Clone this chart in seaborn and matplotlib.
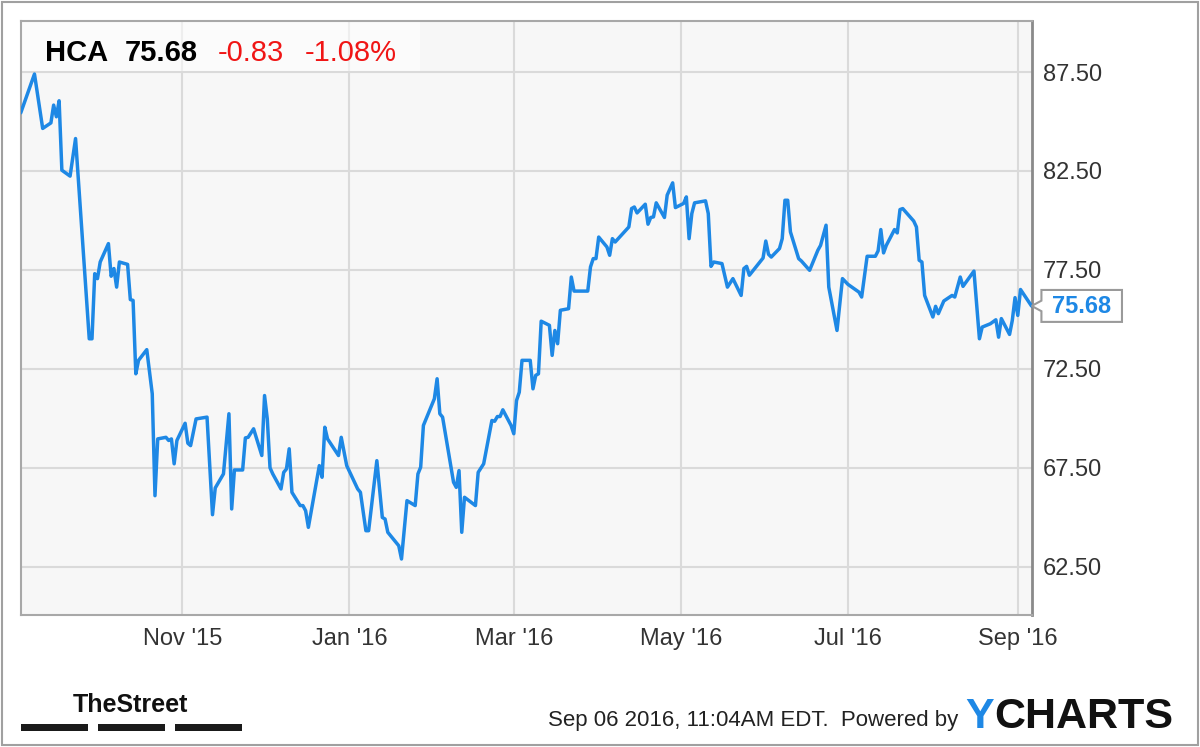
import pandas as pd
import matplotlib
matplotlib.use("Agg")
import matplotlib.pyplot as plt
import matplotlib.transforms as mtransforms
from matplotlib.patches import Polygon, Rectangle
from matplotlib import font_manager as fm
import seaborn as sns

# ---- data ----
ticker = "HCA"
last_price = 75.68
change = -0.83
change_pct = -1.08
stamp = "Sep 06 2016, 11:04AM EDT."

dates = [
    "2015-09-03", "2015-09-08", "2015-09-11", "2015-09-14", "2015-09-15", "2015-09-16", "2015-09-17",
    "2015-09-18", "2015-09-21", "2015-09-23", "2015-09-28", "2015-09-29", "2015-09-30", "2015-10-01",
    "2015-10-02", "2015-10-05", "2015-10-06", "2015-10-07", "2015-10-08", "2015-10-09", "2015-10-12",
    "2015-10-13", "2015-10-14", "2015-10-15", "2015-10-16", "2015-10-19", "2015-10-21", "2015-10-22",
    "2015-10-23", "2015-10-26", "2015-10-27", "2015-10-28", "2015-10-29", "2015-10-30", "2015-11-02",
    "2015-11-03", "2015-11-04", "2015-11-06", "2015-11-10", "2015-11-12", "2015-11-13", "2015-11-16",
    "2015-11-18", "2015-11-19", "2015-11-20", "2015-11-23", "2015-11-24", "2015-11-25", "2015-11-27",
    "2015-11-30", "2015-12-01", "2015-12-02", "2015-12-03", "2015-12-04", "2015-12-07", "2015-12-08",
    "2015-12-09", "2015-12-10", "2015-12-11", "2015-12-14", "2015-12-15", "2015-12-16", "2015-12-17",
    "2015-12-21", "2015-12-22", "2015-12-23", "2015-12-24", "2015-12-28", "2015-12-29", "2015-12-31",
    "2016-01-04", "2016-01-05", "2016-01-07", "2016-01-08", "2016-01-11", "2016-01-13", "2016-01-14",
    "2016-01-15", "2016-01-19", "2016-01-20", "2016-01-22", "2016-01-25", "2016-01-26", "2016-01-27",
    "2016-01-28", "2016-02-01", "2016-02-02", "2016-02-03", "2016-02-04", "2016-02-08", "2016-02-09",
    "2016-02-10", "2016-02-11", "2016-02-12", "2016-02-16", "2016-02-17", "2016-02-19", "2016-02-22",
    "2016-02-23", "2016-02-24", "2016-02-25", "2016-02-26", "2016-02-29", "2016-03-01", "2016-03-02",
    "2016-03-03", "2016-03-04", "2016-03-07", "2016-03-08", "2016-03-09", "2016-03-10", "2016-03-11",
    "2016-03-14", "2016-03-15", "2016-03-16", "2016-03-17", "2016-03-18", "2016-03-21", "2016-03-22",
    "2016-03-23", "2016-03-28", "2016-03-29", "2016-03-30", "2016-03-31", "2016-04-01", "2016-04-04",
    "2016-04-05", "2016-04-06", "2016-04-07", "2016-04-12", "2016-04-13", "2016-04-14", "2016-04-15",
    "2016-04-18", "2016-04-19", "2016-04-20", "2016-04-21", "2016-04-22", "2016-04-25", "2016-04-26",
    "2016-04-28", "2016-04-29", "2016-05-02", "2016-05-03", "2016-05-04", "2016-05-05", "2016-05-06",
    "2016-05-10", "2016-05-11", "2016-05-12", "2016-05-13", "2016-05-16", "2016-05-18", "2016-05-20",
    "2016-05-23", "2016-05-24", "2016-05-25", "2016-05-26", "2016-05-31", "2016-06-01", "2016-06-02",
    "2016-06-03", "2016-06-06", "2016-06-07", "2016-06-08", "2016-06-09", "2016-06-10", "2016-06-13",
    "2016-06-14", "2016-06-17", "2016-06-20", "2016-06-21", "2016-06-23", "2016-06-24", "2016-06-27",
    "2016-06-29", "2016-07-01", "2016-07-05", "2016-07-06", "2016-07-08", "2016-07-11", "2016-07-12",
    "2016-07-13", "2016-07-14", "2016-07-15", "2016-07-18", "2016-07-19", "2016-07-20", "2016-07-21",
    "2016-07-25", "2016-07-26", "2016-07-27", "2016-07-28", "2016-07-29", "2016-08-01", "2016-08-02",
    "2016-08-03", "2016-08-05", "2016-08-08", "2016-08-09", "2016-08-11", "2016-08-12", "2016-08-16",
    "2016-08-18", "2016-08-19", "2016-08-22", "2016-08-24", "2016-08-25", "2016-08-26", "2016-08-29",
    "2016-08-30", "2016-08-31", "2016-09-01", "2016-09-02", "2016-09-06",
]
prices = [
    85.44, 87.40, 84.65, 84.93, 85.83, 85.24, 86.05,
    82.54, 82.24, 84.14, 74.02, 74.02, 77.31, 77.06,
    77.90, 78.83, 77.18, 77.57, 76.63, 77.90, 77.78,
    76.00, 75.96, 72.25, 72.93, 73.47, 71.24, 66.09,
    68.96, 69.04, 68.88, 68.96, 67.70, 68.88, 69.75,
    68.74, 68.62, 69.97, 70.06, 65.13, 66.48, 67.19,
    70.23, 65.42, 67.39, 67.39, 69.01, 69.04, 69.47,
    68.12, 71.15, 69.97, 67.50, 67.19, 66.43, 67.27,
    67.44, 68.46, 66.26, 65.59, 65.59, 65.33, 64.49,
    67.61, 67.02, 69.55, 68.96, 68.12, 69.04, 67.61,
    66.43, 66.26, 64.32, 64.32, 67.86, 64.99, 64.91,
    64.24, 63.56, 62.89, 65.84, 65.59, 67.19, 67.53,
    69.64, 70.99, 72.00, 70.23, 70.06, 66.77, 66.51,
    67.36, 64.24, 66.01, 65.59, 67.27, 67.70, 69.89,
    69.85, 70.09, 70.09, 70.43, 69.64, 69.22, 70.90,
    71.32, 72.93, 72.93, 71.49, 72.17, 72.25, 74.91,
    74.70, 73.18, 74.44, 73.77, 75.46, 75.54, 77.14,
    76.43, 76.43, 77.65, 78.07, 78.07, 79.16, 78.66,
    78.24, 79.08, 78.91, 79.67, 80.60, 80.68, 80.38,
    80.82, 79.81, 80.15, 80.18, 80.89, 80.15, 81.28,
    81.90, 80.65, 80.86, 81.19, 79.08, 80.35, 80.89,
    80.99, 80.35, 77.68, 77.90, 77.82, 76.63, 77.06,
    76.21, 77.57, 77.68, 77.23, 78.10, 78.96, 78.29,
    78.15, 78.58, 79.08, 81.02, 81.02, 79.42, 78.07,
    77.95, 77.48, 78.49, 78.74, 79.76, 76.63, 74.44,
    77.06, 76.77, 76.38, 76.13, 78.19, 78.19, 78.46,
    79.54, 78.36, 78.74, 79.54, 79.37, 80.55, 80.60,
    79.97, 79.67, 77.99, 77.90, 76.21, 75.12, 75.66,
    75.29, 75.93, 76.21, 76.13, 77.14, 76.67, 77.44,
    74.02, 74.61, 74.78, 74.98, 74.10, 75.04, 74.24,
    74.95, 76.10, 75.20, 76.51, 75.68,
]

month_ticks = ["2015-11-01", "2016-01-01", "2016-03-01", "2016-05-01", "2016-07-01", "2016-09-01"]
month_labels = ["Nov '15", "Jan '16", "Mar '16", "May '16", "Jul '16", "Sep '16"]
price_ticks = [62.5, 67.5, 72.5, 77.5, 82.5, 87.5]

# ---- style ----
sns.set_style("white")
plt.rcParams['font.family'] = ['Liberation Sans', 'DejaVu Sans']

BLUE = "#1e88e5"
RED = "#f01515"
TXT = "#333333"
W, H = 1200, 747

df = pd.DataFrame({"date": pd.to_datetime(dates), "price": prices})

fig = plt.figure(figsize=(12, 7.47), dpi=100)
fig.patch.set_facecolor("white")
# plot area in pixels: x 21..1031.7, y 21..615
ax = fig.add_axes([21 / W, 1 - 615 / H, (1031.7 - 21) / W, (615 - 21) / H])
ax.set_facecolor("#f7f7f7")

sns.lineplot(data=df, x="date", y="price", ax=ax, color=BLUE, linewidth=2.5, zorder=3)

ax.set_xlim(pd.Timestamp("2015-09-03 02:00"), pd.Timestamp("2016-09-06 02:00"))
ax.set_ylim(60.06, 90.08)
ax.set_xlabel("")
ax.set_ylabel("")

ax.set_xticks(pd.to_datetime(month_ticks))
ax.set_xticklabels(month_labels)
ax.yaxis.tick_right()
ax.set_yticks(price_ticks)
ax.set_yticklabels([f"{p:.2f}" for p in price_ticks])
ax.tick_params(axis="x", length=0, pad=21.5, labelsize=17, labelcolor=TXT)
ax.tick_params(axis="y", length=0, pad=8, labelsize=17, labelcolor=TXT)
for lbl in ax.get_xticklabels():
    lbl.set_verticalalignment("baseline")

ax.grid(True, color="#dadada", linewidth=1.5)
ax.set_axisbelow(True)
for side in ["left", "top", "bottom"]:
    ax.spines[side].set_color("#a8a8a8")
    ax.spines[side].set_linewidth(1.5)
ax.spines["right"].set_color("#8a8a8a")
ax.spines["right"].set_linewidth(2)

# header box (translucent) in the top-left corner
ax.add_patch(Rectangle((0, 1 - 50 / 594), 399 / 1010.7, 50 / 594, transform=ax.transAxes,
                       facecolor="white", alpha=0.55, edgecolor="none", zorder=2))

base_y = 1 - 61 / H
fig.text(45 / W, base_y, ticker, fontsize=21, fontweight="bold", color="black", va="baseline")
fig.text(125 / W, base_y, f"{last_price:.2f}", fontsize=21, fontweight="bold", color="black", va="baseline")
fig.text(218 / W, base_y, f"{change:.2f}", fontsize=21, color=RED, va="baseline")
fig.text(305 / W, base_y, f"{change_pct:.2f}%", fontsize=21, color=RED, va="baseline")

# last value tag on the right axis
blend = mtransforms.blended_transform_factory(ax.transAxes, ax.transData)
tag_tr = mtransforms.Affine2D().scale(fig.dpi / 72) + \
    mtransforms.ScaledTranslation(1.0, df["price"].iloc[-1], blend)
tag = Polygon([(0, 0), (7, 3.8), (7, 11.5), (65, 11.5), (65, -11.5), (7, -11.5), (7, -3.8)],
              closed=True, transform=tag_tr, facecolor="white", edgecolor="#9a9a9a",
              linewidth=1.5, clip_on=False, zorder=5)
ax.add_artist(tag)
ax.text(36, -0.5, f"{df['price'].iloc[-1]:.2f}", transform=tag_tr, ha="center", va="center",
        fontsize=17, fontweight="bold", color=BLUE, clip_on=False, zorder=6)

# footer
names = {f.name for f in fm.fontManager.ttflist}
logo_family = "Liberation Sans Narrow" if "Liberation Sans Narrow" in names else "Liberation Sans"
logo_size = 22 if logo_family == "Liberation Sans Narrow" else 18
fig.text(188 / W, 1 - 712 / H, "TheStreet", fontsize=logo_size, fontweight="bold",
         family=logo_family, color="#111111", ha="right", va="baseline")
for x0, x1 in [(21, 88), (98, 165), (175, 242)]:
    fig.patches.append(Rectangle((x0 / W, 1 - 731 / H), (x1 - x0) / W, 7 / H,
                                 transform=fig.transFigure, facecolor="#1a1a1a", edgecolor="none"))

fig.text(958 / W, 1 - 726 / H, f"{stamp}  Powered by", fontsize=16, color="#222222",
         ha="right", va="baseline")
fig.text(965 / W, 1 - 728 / H, "Y", fontsize=31, fontweight="bold", color=BLUE, va="baseline")
fig.text(994 / W, 1 - 728 / H, "CHARTS", fontsize=31, fontweight="bold", color="#111111", va="baseline")

# outer frame
fig.patches.append(Rectangle((2 / W, 2 / H), 1196 / W, 743 / H, transform=fig.transFigure,
                             facecolor="none", edgecolor="#a0a0a0", linewidth=1.5))

fig.savefig("out.png", dpi=100)
